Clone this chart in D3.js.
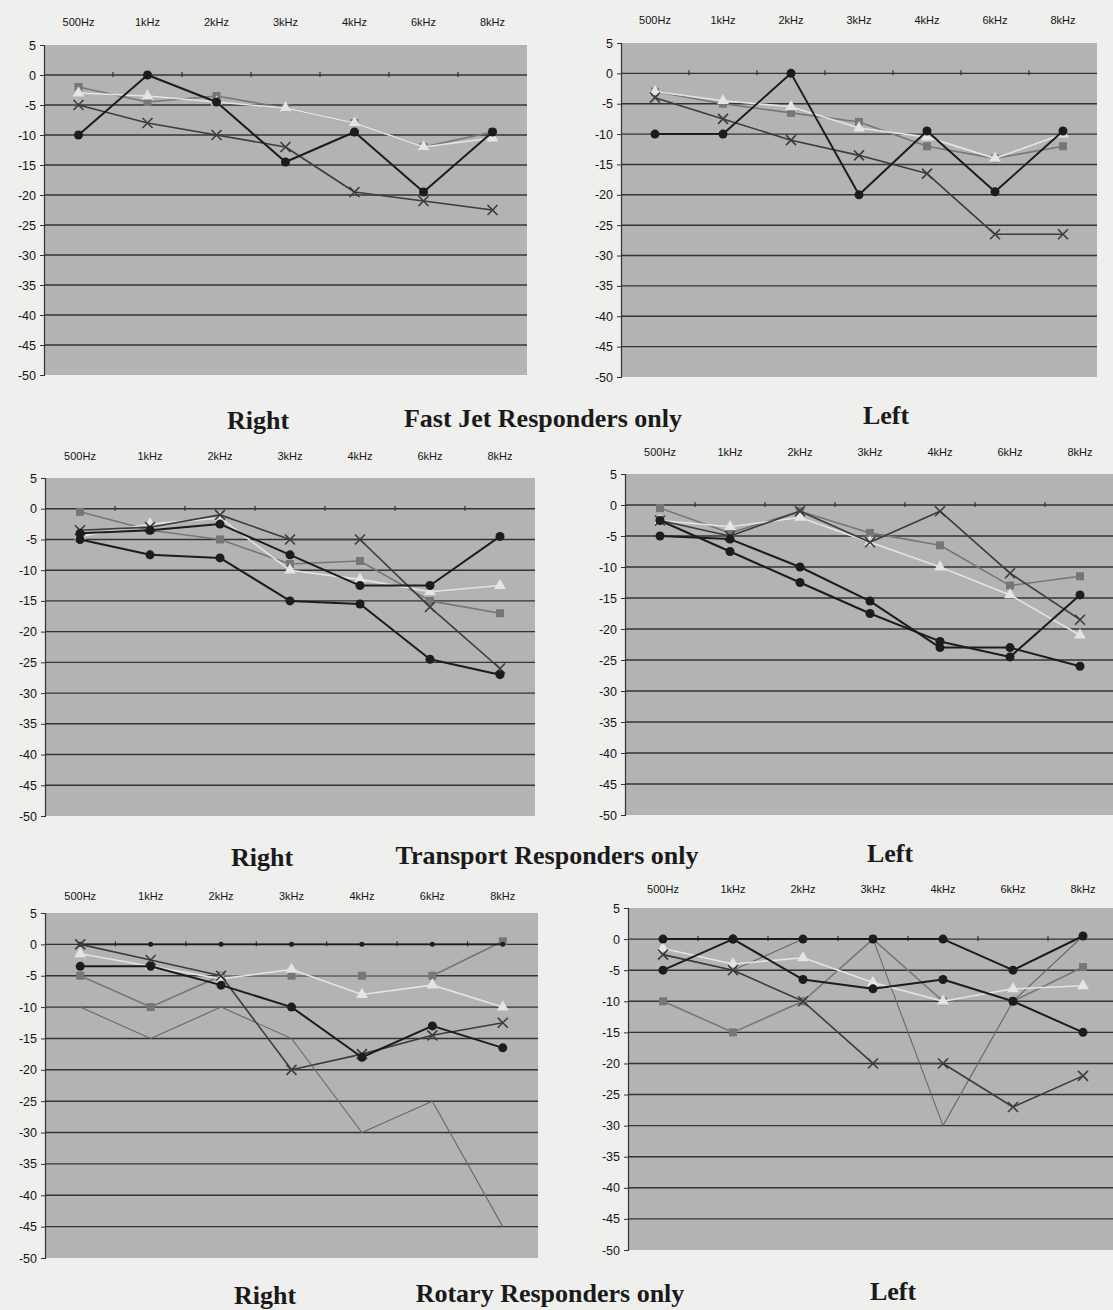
<!DOCTYPE html>
<html>
<head>
<meta charset="utf-8">
<script src="https://cdn.jsdelivr.net/npm/d3@7"></script>
<style>
  body { margin: 0; background: #efefed; }
  svg { display: block; }
</style>
</head>
<body>
<div id="chart"></div>
<script>
// frequency categories and dB ticks
var freqs = ["500Hz", "1kHz", "2kHz", "3kHz", "4kHz", "6kHz", "8kHz"];
var yTicks = [5, 0, -5, -10, -15, -20, -25, -30, -35, -40, -45, -50];

// Fast Jet - Right
var fjRightDot = [-10, 0, -4.5, -14.5, -9.5, -19.5, -9.5];
var fjRightX   = [-5, -8, -10, -12, -19.5, -21, -22.5];
var fjRightSq  = [-2, -4.5, -3.5, -5.5, -8, -12, -9.5];
var fjRightTri = [-3, -3.5, -4.5, -5.5, -8, -12, -10.5];

// Fast Jet - Left
var fjLeftDot = [-10, -10, 0, -20, -9.5, -19.5, -9.5];
var fjLeftX   = [-4, -7.5, -11, -13.5, -16.5, -26.5, -26.5];
var fjLeftSq  = [-3, -5, -6.5, -8, -12, -14, -12];
var fjLeftTri = [-3, -4.5, -5.5, -9, -10.5, -14, -10];

// Transport - Right
var trRightDotA = [-5, -7.5, -8, -15, -15.5, -24.5, -27];
var trRightDotB = [-4, -3.5, -2.5, -7.5, -12.5, -12.5, -4.5];
var trRightX    = [-3.5, -3, -1, -5, -5, -16, -26];
var trRightSq   = [-0.5, -3.5, -5, -9, -8.5, -15, -17];
var trRightTri  = [-4.5, -2.5, -1.5, -10, -11.5, -13.5, -12.5];

// Transport - Left
var trLeftDotA = [-5, -5.5, -10, -15.5, -23, -23, -26];
var trLeftDotB = [-2.5, -7.5, -12.5, -17.5, -22, -24.5, -14.5];
var trLeftX    = [-2.5, -5, -1, -6, -1, -11, -18.5];
var trLeftSq   = [-0.5, -4.5, -1, -4.5, -6.5, -13, -11.5];
var trLeftTri  = [-2.5, -3.5, -2, -6, -10, -14.5, -21];

// Rotary - Right
var roRightSmall = [0, 0, 0, 0, 0, 0, 0];
var roRightDot   = [-3.5, -3.5, -6.5, -10, -18, -13, -16.5];
var roRightX     = [0, -2.5, -5, -20, -17.5, -14.5, -12.5];
var roRightSq    = [-5, -10, -5, -5, -5, -5, 0.5];
var roRightTri   = [-1.5, -3.5, -5.5, -4, -8, -6.5, -10];
var roRightThin  = [-10, -15, -10, -15, -30, -25, -45];

// Rotary - Left
var roLeftDotA = [0, 0, 0, 0, 0, -5, 0.5];
var roLeftDotB = [-5, 0, -6.5, -8, -6.5, -10, -15];
var roLeftX    = [-2.5, -5, -10, -20, -20, -27, -22];
var roLeftSq   = [-10, -15, -10, 0, -10, -10, -4.5];
var roLeftTri  = [-1.5, -4, -3, -7, -10, -8, -7.5];
var roLeftThin = [-2.5, -5, 0, 0, -30, -10, 0.5];

// series looks
var styles = {
  dot:   {color: "#1c1c1c", width: 2,   marker: "circle", size: 4.5},
  small: {color: "#1c1c1c", width: 1.6, marker: "circle", size: 2.5},
  sq:    {color: "#767676", width: 1.6, marker: "square", size: 8},
  tri:   {color: "#e4e4e4", width: 1.6, marker: "triangle", size: 9},
  x:     {color: "#3c3c3c", width: 1.6, marker: "x", size: 5},
  thin:  {color: "#686868", width: 1.1, marker: null}
};

var panels = [
  {left: 44, right: 527, top: 45, bottom: 375, labelY: 26,
   series: [["sq", fjRightSq], ["tri", fjRightTri], ["x", fjRightX], ["dot", fjRightDot]]},
  {left: 621, right: 1097, top: 43, bottom: 377, labelY: 24,
   series: [["sq", fjLeftSq], ["tri", fjLeftTri], ["x", fjLeftX], ["dot", fjLeftDot]]},
  {left: 45, right: 535, top: 478, bottom: 816, labelY: 460,
   series: [["sq", trRightSq], ["tri", trRightTri], ["x", trRightX], ["dot", trRightDotA], ["dot", trRightDotB]]},
  {left: 625, right: 1115, top: 474, bottom: 815, labelY: 456,
   series: [["sq", trLeftSq], ["tri", trLeftTri], ["x", trLeftX], ["dot", trLeftDotA], ["dot", trLeftDotB]]},
  {left: 45, right: 538, top: 913, bottom: 1258, labelY: 900,
   series: [["thin", roRightThin], ["sq", roRightSq], ["tri", roRightTri], ["small", roRightSmall], ["x", roRightX], ["dot", roRightDot]]},
  {left: 628, right: 1118, top: 908, bottom: 1250, labelY: 893,
   series: [["thin", roLeftThin], ["sq", roLeftSq], ["tri", roLeftTri], ["x", roLeftX], ["dot", roLeftDotA], ["dot", roLeftDotB]]}
];

var titles = [
  {text: "Right", x: 258, y: 429}, {text: "Fast Jet Responders only", x: 543, y: 427}, {text: "Left", x: 886, y: 424},
  {text: "Right", x: 262, y: 866}, {text: "Transport Responders only", x: 547, y: 864}, {text: "Left", x: 890, y: 862},
  {text: "Right", x: 265, y: 1304}, {text: "Rotary Responders only", x: 550, y: 1302}, {text: "Left", x: 893, y: 1300}
];

var svg = d3.select("#chart")
  .append("svg")
    .attr("width", 1113)
    .attr("height", 1310);

panels.forEach(function(p) {
  var x = d3.scaleBand()
    .domain(freqs)
    .range([p.left, p.right]);
  var y = d3.scaleLinear()
    .domain([5, -50])
    .range([p.top, p.bottom]);

  var g = svg.append("g");

  // plot area
  g.append("rect")
    .attr("x", p.left)
    .attr("y", p.top)
    .attr("width", p.right - p.left)
    .attr("height", p.bottom - p.top)
    .attr("fill", "#b3b3b1");

  // gridlines
  g.selectAll(".grid")
    .data(yTicks.filter(d => d < 5 && d > -50))
    .join("line")
      .attr("x1", p.left)
      .attr("x2", p.right)
      .attr("y1", d => y(d))
      .attr("y2", d => y(d))
      .attr("stroke", "#333")
      .attr("stroke-width", 1.4);

  // left axis
  var ya = g.append("g")
    .attr("transform", `translate(${p.left},0)`)
    .call(d3.axisLeft(y).tickValues(yTicks).tickSize(4).tickPadding(4).tickFormat(d => String(d)));
  ya.select(".domain").attr("stroke", "#333").attr("stroke-width", 1.2);
  ya.selectAll("line").attr("stroke", "#333");
  ya.selectAll("text")
    .attr("fill", "#151515")
    .style("font-family", "Liberation Sans, Arial, sans-serif")
    .style("font-size", "12.5px");

  // category ticks on the zero line
  g.selectAll(".ctick")
    .data(freqs.slice(1))
    .join("line")
      .attr("x1", d => x(d))
      .attr("x2", d => x(d))
      .attr("y1", y(0) - 3)
      .attr("y2", y(0) + 2)
      .attr("stroke", "#333")
      .attr("stroke-width", 1.2);

  // category labels above the plot
  g.selectAll(".clabel")
    .data(freqs)
    .join("text")
      .attr("x", d => x(d) + x.bandwidth() / 2)
      .attr("y", p.labelY)
      .attr("text-anchor", "middle")
      .attr("fill", "#151515")
      .style("font-family", "Liberation Sans, Arial, sans-serif")
      .style("font-size", "11px")
      .text(d => d);

  var cx = (d, i) => x(freqs[i]) + x.bandwidth() / 2;
  var line = d3.line()
    .x((d, i) => cx(d, i))
    .y(d => y(d));

  p.series.forEach(function(s) {
    var st = styles[s[0]], vals = s[1];
    g.append("path")
      .datum(vals)
      .attr("fill", "none")
      .attr("stroke", st.color)
      .attr("stroke-width", st.width)
      .attr("stroke-linejoin", "round")
      .attr("d", line);

    if (st.marker === "circle") {
      g.selectAll(null)
        .data(vals)
        .join("circle")
          .attr("cx", cx)
          .attr("cy", d => y(d))
          .attr("r", st.size)
          .attr("fill", st.color);
    } else if (st.marker === "square") {
      g.selectAll(null)
        .data(vals)
        .join("rect")
          .attr("x", (d, i) => cx(d, i) - st.size / 2)
          .attr("y", d => y(d) - st.size / 2)
          .attr("width", st.size)
          .attr("height", st.size)
          .attr("fill", st.color);
    } else if (st.marker === "triangle") {
      g.selectAll(null)
        .data(vals)
        .join("path")
          .attr("transform", (d, i) => `translate(${cx(d, i)},${y(d)})`)
          .attr("d", d3.symbol(d3.symbolTriangle, 60))
          .attr("fill", st.color);
    } else if (st.marker === "x") {
      var r = st.size;
      g.selectAll(null)
        .data(vals)
        .join("path")
          .attr("transform", (d, i) => `translate(${cx(d, i)},${y(d)})`)
          .attr("d", `M${-r},${-r}L${r},${r}M${-r},${r}L${r},${-r}`)
          .attr("stroke", st.color)
          .attr("stroke-width", 1.6);
    }
  });
});

// titles
svg.selectAll(".title")
  .data(titles)
  .join("text")
    .attr("x", d => d.x)
    .attr("y", d => d.y)
    .attr("text-anchor", "middle")
    .attr("fill", "#1a1a1a")
    .style("font-family", "Liberation Serif, Times New Roman, serif")
    .style("font-weight", "bold")
    .style("font-size", "26px")
    .text(d => d.text);
</script>
</body>
</html>
